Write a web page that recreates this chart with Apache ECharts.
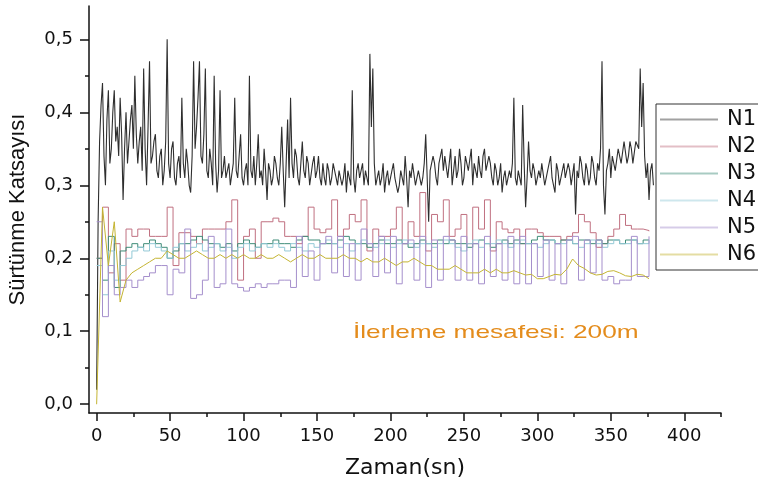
<!DOCTYPE html>
<html>
<head>
<meta charset="utf-8">
<script src="https://cdn.jsdelivr.net/npm/echarts@6/dist/echarts.min.js"></script>
<style>
  html, body { margin: 0; padding: 0; background: #fff; }
  #chart { width: 758px; height: 483px; }
</style>
</head>
<body>
<div id="chart"></div>
<script>
// sample spacing (s) of the traced curves
const stepN1 = 1;
const stepOther = 4;

// N1, every 1 s from 0 to 379
const n1 = [
  0.02, 0.25, 0.36, 0.41, 0.44, 0.34, 0.30, 0.39, 0.43, 0.33, 0.35, 0.40, 0.43, 0.36, 0.38, 0.34, 0.42, 0.37, 0.28, 0.35,
  0.40, 0.33, 0.36, 0.39, 0.41, 0.35, 0.45, 0.37, 0.33, 0.36, 0.38, 0.32, 0.46, 0.35, 0.30, 0.38, 0.47, 0.33, 0.34, 0.36,
  0.37, 0.32, 0.31, 0.34, 0.35, 0.30, 0.32, 0.36, 0.50, 0.33, 0.31, 0.35, 0.36, 0.31, 0.30, 0.33, 0.34, 0.31, 0.42, 0.33,
  0.31, 0.35, 0.33, 0.30, 0.29, 0.34, 0.47, 0.35, 0.38, 0.42, 0.47, 0.34, 0.33, 0.37, 0.46, 0.32, 0.31, 0.35, 0.33, 0.30,
  0.45, 0.33, 0.29, 0.32, 0.43, 0.31, 0.32, 0.34, 0.31, 0.32, 0.33, 0.30, 0.30, 0.33, 0.42, 0.32, 0.31, 0.34, 0.37, 0.31,
  0.30, 0.32, 0.33, 0.30, 0.45, 0.32, 0.31, 0.34, 0.30, 0.33, 0.37, 0.31, 0.32, 0.30, 0.35, 0.32, 0.28, 0.33, 0.32, 0.30,
  0.31, 0.34, 0.33, 0.31, 0.30, 0.33, 0.38, 0.32, 0.27, 0.33, 0.39, 0.31, 0.42, 0.33, 0.31, 0.35, 0.34, 0.31, 0.30, 0.33,
  0.36, 0.32, 0.31, 0.34, 0.33, 0.30, 0.30, 0.33, 0.34, 0.31, 0.32, 0.34, 0.31, 0.30, 0.33, 0.31, 0.30, 0.33, 0.32, 0.30,
  0.31, 0.33, 0.33, 0.31, 0.30, 0.32, 0.32, 0.30, 0.31, 0.33, 0.29, 0.32, 0.32, 0.30, 0.43, 0.31, 0.29, 0.32, 0.33, 0.31,
  0.31, 0.33, 0.30, 0.32, 0.32, 0.30, 0.48, 0.38, 0.46, 0.33, 0.30, 0.31, 0.32, 0.30, 0.31, 0.33, 0.29, 0.31, 0.32, 0.30,
  0.30, 0.32, 0.33, 0.31, 0.31, 0.29, 0.30, 0.32, 0.32, 0.30, 0.34, 0.31, 0.27, 0.32, 0.31, 0.33, 0.33, 0.30, 0.30, 0.32,
  0.32, 0.30, 0.31, 0.33, 0.37, 0.31, 0.25, 0.32, 0.32, 0.34, 0.33, 0.31, 0.30, 0.33, 0.33, 0.35, 0.32, 0.34, 0.34, 0.31,
  0.33, 0.35, 0.30, 0.32, 0.34, 0.31, 0.32, 0.35, 0.33, 0.30, 0.31, 0.34, 0.34, 0.32, 0.32, 0.35, 0.30, 0.33, 0.33, 0.31,
  0.34, 0.32, 0.31, 0.34, 0.35, 0.32, 0.32, 0.34, 0.33, 0.31, 0.30, 0.33, 0.32, 0.30, 0.31, 0.33, 0.29, 0.31, 0.32, 0.30,
  0.30, 0.32, 0.31, 0.33, 0.42, 0.31, 0.30, 0.32, 0.32, 0.30, 0.41, 0.33, 0.27, 0.31, 0.36, 0.32, 0.31, 0.33, 0.32, 0.30,
  0.30, 0.32, 0.31, 0.33, 0.33, 0.30, 0.30, 0.32, 0.32, 0.34, 0.31, 0.30, 0.29, 0.33, 0.32, 0.30, 0.30, 0.32, 0.33, 0.31,
  0.31, 0.33, 0.32, 0.30, 0.30, 0.33, 0.26, 0.32, 0.31, 0.34, 0.33, 0.31, 0.30, 0.33, 0.32, 0.30, 0.31, 0.34, 0.33, 0.31,
  0.30, 0.33, 0.32, 0.35, 0.47, 0.30, 0.26, 0.32, 0.33, 0.35, 0.31, 0.34, 0.34, 0.32, 0.32, 0.35, 0.35, 0.33, 0.33, 0.36,
  0.36, 0.33, 0.34, 0.36, 0.35, 0.33, 0.33, 0.36, 0.36, 0.35, 0.46, 0.38, 0.44, 0.34, 0.31, 0.33, 0.28, 0.32, 0.33, 0.30
];

// N2..N6, every 4 s from 0 to 376
const n2 = [
  0.20, 0.27, 0.18, 0.22, 0.17, 0.24, 0.23, 0.24, 0.24, 0.23,
  0.23, 0.23, 0.27, 0.19, 0.235, 0.235, 0.23, 0.22, 0.24, 0.24,
  0.24, 0.24, 0.25, 0.28, 0.17, 0.23, 0.24, 0.20, 0.25, 0.25,
  0.255, 0.25, 0.23, 0.23, 0.22, 0.23, 0.27, 0.24, 0.235, 0.24,
  0.28, 0.23, 0.24, 0.26, 0.25, 0.28, 0.21, 0.24, 0.23, 0.23,
  0.24, 0.27, 0.22, 0.25, 0.23, 0.29, 0.21, 0.26, 0.25, 0.28,
  0.23, 0.24, 0.26, 0.22, 0.27, 0.24, 0.28, 0.21, 0.25, 0.24,
  0.235, 0.24, 0.22, 0.24, 0.24, 0.235, 0.23, 0.23, 0.23, 0.225,
  0.23, 0.235, 0.26, 0.25, 0.235, 0.215, 0.22, 0.23, 0.24, 0.26,
  0.245, 0.24, 0.24, 0.238, 0.237
];
const n3 = [
  0.20, 0.17, 0.23, 0.16, 0.21, 0.215, 0.22, 0.215, 0.22, 0.225,
  0.22, 0.215, 0.20, 0.21, 0.22, 0.22, 0.225, 0.23, 0.225, 0.22,
  0.22, 0.215, 0.22, 0.21, 0.22, 0.225, 0.22, 0.215, 0.22, 0.22,
  0.225, 0.22, 0.22, 0.215, 0.225, 0.23, 0.225, 0.225, 0.22, 0.22,
  0.22, 0.225, 0.23, 0.225, 0.22, 0.22, 0.215, 0.22, 0.225, 0.22,
  0.22, 0.225, 0.22, 0.215, 0.22, 0.225, 0.22, 0.22, 0.225, 0.22,
  0.225, 0.22, 0.22, 0.215, 0.22, 0.225, 0.22, 0.215, 0.22, 0.225,
  0.22, 0.225, 0.22, 0.22, 0.225, 0.23, 0.225, 0.225, 0.22, 0.225,
  0.225, 0.22, 0.225, 0.225, 0.22, 0.225, 0.22, 0.225, 0.225, 0.22,
  0.225, 0.225, 0.22, 0.225, 0.225
];
const n4 = [
  0.19, 0.15, 0.21, 0.17, 0.19, 0.20, 0.21, 0.215, 0.21, 0.22,
  0.215, 0.21, 0.20, 0.215, 0.22, 0.21, 0.215, 0.22, 0.21, 0.215,
  0.22, 0.21, 0.215, 0.20, 0.215, 0.22, 0.21, 0.215, 0.22, 0.215,
  0.22, 0.215, 0.21, 0.22, 0.215, 0.21, 0.22, 0.215, 0.22, 0.225,
  0.22, 0.215, 0.22, 0.21, 0.22, 0.225, 0.22, 0.215, 0.22, 0.225,
  0.215, 0.22, 0.225, 0.22, 0.215, 0.22, 0.22, 0.215, 0.22, 0.225,
  0.22, 0.215, 0.21, 0.22, 0.225, 0.215, 0.22, 0.22, 0.225, 0.22,
  0.215, 0.22, 0.225, 0.22, 0.22, 0.215, 0.22, 0.225, 0.22, 0.22,
  0.225, 0.22, 0.215, 0.22, 0.225, 0.22, 0.215, 0.22, 0.225, 0.22,
  0.22, 0.225, 0.22, 0.22, 0.225
];
const n5 = [
  0.25, 0.12, 0.19, 0.15, 0.16, 0.17, 0.16, 0.17, 0.175, 0.18,
  0.19, 0.19, 0.15, 0.185, 0.18, 0.24, 0.145, 0.15, 0.17, 0.23,
  0.16, 0.165, 0.24, 0.165, 0.16, 0.155, 0.16, 0.165, 0.16, 0.165,
  0.165, 0.17, 0.17, 0.16, 0.23, 0.175, 0.21, 0.17, 0.22, 0.23,
  0.18, 0.23, 0.175, 0.22, 0.17, 0.24, 0.22, 0.175, 0.23, 0.18,
  0.23, 0.165, 0.22, 0.225, 0.17, 0.23, 0.16, 0.225, 0.17, 0.23,
  0.225, 0.17, 0.23, 0.17, 0.22, 0.165, 0.23, 0.175, 0.22, 0.17,
  0.23, 0.165, 0.23, 0.165, 0.22, 0.175, 0.225, 0.17, 0.22, 0.165,
  0.225, 0.23, 0.17, 0.225, 0.18, 0.225, 0.17, 0.175, 0.165, 0.17,
  0.17, 0.23, 0.175, 0.175, 0.23
];
const n6 = [
  0.00, 0.27, 0.19, 0.25, 0.14, 0.17, 0.18, 0.185, 0.19, 0.195,
  0.20, 0.20, 0.21, 0.205, 0.20, 0.20, 0.205, 0.21, 0.205, 0.20,
  0.20, 0.205, 0.20, 0.205, 0.20, 0.205, 0.20, 0.20, 0.205, 0.20,
  0.20, 0.205, 0.20, 0.195, 0.20, 0.205, 0.20, 0.20, 0.205, 0.20,
  0.20, 0.20, 0.205, 0.20, 0.20, 0.195, 0.20, 0.195, 0.195, 0.20,
  0.195, 0.19, 0.195, 0.195, 0.20, 0.195, 0.19, 0.19, 0.185, 0.185,
  0.185, 0.19, 0.185, 0.18, 0.18, 0.18, 0.185, 0.18, 0.185, 0.18,
  0.18, 0.183, 0.18, 0.177, 0.178, 0.172, 0.172, 0.175, 0.178, 0.177,
  0.185, 0.199, 0.19, 0.186, 0.18, 0.177, 0.178, 0.182, 0.183, 0.18,
  0.176, 0.175, 0.178, 0.177, 0.172
];

const seriesNames = ['N1', 'N2', 'N3', 'N4', 'N5', 'N6'];
const seriesColors = ['#2e2e2e', '#c07080', '#3f8c78', '#93c9d6', '#a58fcc', '#c4b432'];

const xTicks = [0, 50, 100, 150, 200, 250, 300, 350, 400];
const xMinorTicks = [25, 75, 125, 175, 225, 275, 325, 375, 425];
const yTicks = [0, 0.1, 0.2, 0.3, 0.4, 0.5];
const yMinorTicks = [0.05, 0.15, 0.25, 0.35, 0.45];

const note = 'İlerleme mesafesi: 200m';

function toPairs(values, step) {
  return values.map((v, i) => [i * step, v]);
}

const allValues = [n1, n2, n3, n4, n5, n6];
const stepped = [false, 'end', 'end', 'end', 'end', false];

let series = [];
allValues.forEach((values, i) => {
  series.push({
    name: seriesNames[i],
    type: 'line',
    data: toPairs(values, i === 0 ? stepN1 : stepOther),
    step: stepped[i],
    symbol: 'none',
    silent: true,
    lineStyle: {width: i === 0 ? 1.1 : 1, color: seriesColors[i]},
    itemStyle: {color: seriesColors[i]}
  });
});

const xMin = -5.2, xMax = 425;
const yMin = -0.012, yMax = 0.5456;
const font = 'DejaVu Sans';

const chartOptions = {
  animation: false,
  grid: {left: 89, right: 37, top: 6, bottom: 70, containLabel: false, outerBoundsMode: 'none'},
  xAxis: [
    {
      type: 'value', min: xMin, max: xMax,
      name: 'Zaman(sn)', nameLocation: 'middle', nameGap: 44,
      nameTextStyle: {fontFamily: font, fontSize: 22, color: '#111'},
      splitLine: {show: false},
      axisLine: {onZero: false, lineStyle: {color: '#111', width: 1.5}},
      axisTick: {length: 8, customValues: xTicks, lineStyle: {color: '#111', width: 1.5}},
      axisLabel: {customValues: xTicks, margin: 14, fontFamily: font, fontSize: 18, color: '#111'}
    },
    {
      type: 'value', min: xMin, max: xMax, position: 'bottom',
      splitLine: {show: false},
      axisLine: {show: false, onZero: false},
      axisTick: {length: 4, customValues: xMinorTicks, lineStyle: {color: '#111', width: 1.5}},
      axisLabel: {show: false}
    }
  ],
  yAxis: [
    {
      type: 'value', min: yMin, max: yMax, position: 'left',
      name: 'Sürtünme Katsayısı', nameLocation: 'middle', nameGap: 60,
      nameTextStyle: {fontFamily: 'Liberation Sans', fontSize: 22, color: '#111'},
      splitLine: {show: false},
      axisLine: {show: true, onZero: false, lineStyle: {color: '#111', width: 1.5}},
      axisTick: {show: true, length: 9, customValues: yTicks, lineStyle: {color: '#111', width: 1.5}},
      axisLabel: {
        customValues: yTicks, margin: 16, fontFamily: font, fontSize: 18, color: '#111',
        formatter: v => v.toFixed(1).replace('.', ',')
      }
    },
    {
      type: 'value', min: yMin, max: yMax, position: 'left',
      splitLine: {show: false},
      axisLine: {show: false, onZero: false},
      axisTick: {show: true, length: 4, customValues: yMinorTicks, lineStyle: {color: '#111', width: 1.5}},
      axisLabel: {show: false}
    }
  ],
  legend: {
    data: seriesNames,
    orient: 'vertical',
    left: 656, top: 104,
    padding: [5, 40, 5, 4],
    icon: 'rect',
    itemWidth: 58, itemHeight: 2, itemGap: 6,
    borderColor: '#333', borderWidth: 1,
    itemStyle: {opacity: 0.45},
    textStyle: {fontFamily: font, fontSize: 21, color: '#111', padding: [0, 0, 0, 4]}
  },
  graphic: [{
    type: 'text', x: 353, y: 333, scaleX: 1.38,
    style: {text: note, fill: '#e48c1c', font: '19px "Liberation Sans"', verticalAlign: 'middle'}
  }],
  series: series
};

const chart = echarts.init(document.getElementById('chart'), null, {renderer: 'canvas'});
chart.setOption(chartOptions);
</script>
</body>
</html>
